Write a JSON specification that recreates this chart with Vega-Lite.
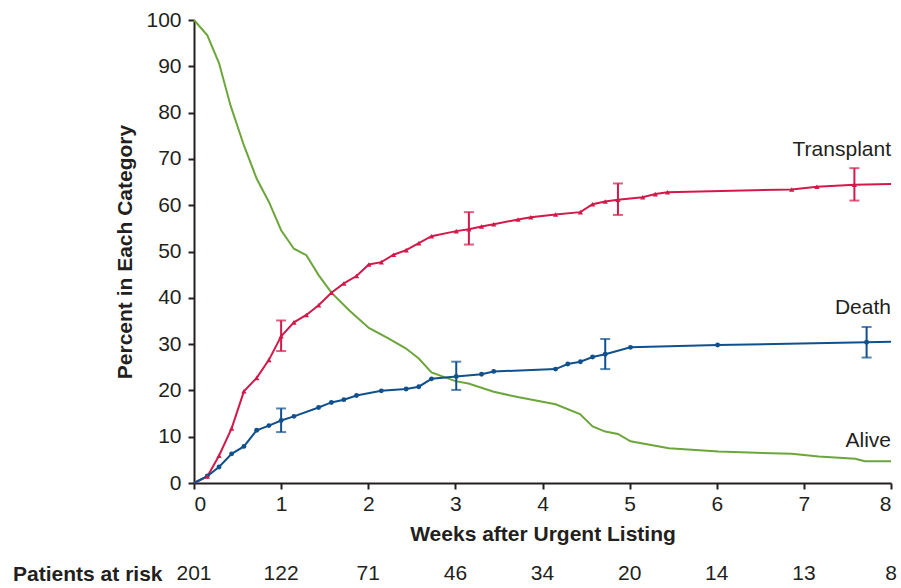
{
  "$schema": "https://vega.github.io/schema/vega-lite/v6.json",
  "autosize": {"type": "pad"},
  "padding": {"left": 12, "top": 9, "right": 5, "bottom": 0},
  "background": "white",
  "config": {
    "font": "Liberation Sans",
    "view": {"stroke": null},
    "concat": {"spacing": 19},
    "axis": {
      "grid": false,
      "domainColor": "#231f20",
      "domainWidth": 2,
      "tickColor": "#231f20",
      "tickWidth": 2,
      "tickSize": 6,
      "labelFont": "Liberation Sans",
      "labelFontSize": 21,
      "labelColor": "#231f20",
      "titleFont": "Liberation Sans",
      "titleFontSize": 21,
      "titleFontWeight": "bold",
      "titleColor": "#231f20"
    }
  },
  "datasets": {
    "curves": [
      {"series": "Alive", "week": 0, "pct": 100},
      {"series": "Alive", "week": 0.153, "pct": 96.7},
      {"series": "Alive", "week": 0.287, "pct": 90.7},
      {"series": "Alive", "week": 0.42, "pct": 81.5},
      {"series": "Alive", "week": 0.573, "pct": 72.9},
      {"series": "Alive", "week": 0.72, "pct": 65.7},
      {"series": "Alive", "week": 0.86, "pct": 60.7},
      {"series": "Alive", "week": 1.0, "pct": 54.6},
      {"series": "Alive", "week": 1.147, "pct": 50.6},
      {"series": "Alive", "week": 1.29, "pct": 49.2},
      {"series": "Alive", "week": 1.43, "pct": 44.9},
      {"series": "Alive", "week": 1.577, "pct": 41.1},
      {"series": "Alive", "week": 1.78, "pct": 37.3},
      {"series": "Alive", "week": 2.007, "pct": 33.5},
      {"series": "Alive", "week": 2.236, "pct": 31.2},
      {"series": "Alive", "week": 2.43, "pct": 29.1},
      {"series": "Alive", "week": 2.58, "pct": 26.9},
      {"series": "Alive", "week": 2.726, "pct": 23.9},
      {"series": "Alive", "week": 3.0, "pct": 22.0},
      {"series": "Alive", "week": 3.15, "pct": 21.5},
      {"series": "Alive", "week": 3.44, "pct": 19.7},
      {"series": "Alive", "week": 3.73, "pct": 18.5},
      {"series": "Alive", "week": 4.15, "pct": 17.0},
      {"series": "Alive", "week": 4.43, "pct": 14.9},
      {"series": "Alive", "week": 4.575, "pct": 12.2},
      {"series": "Alive", "week": 4.72, "pct": 11.1},
      {"series": "Alive", "week": 4.866, "pct": 10.6},
      {"series": "Alive", "week": 5.01, "pct": 9.0},
      {"series": "Alive", "week": 5.45, "pct": 7.5},
      {"series": "Alive", "week": 6.02, "pct": 6.8},
      {"series": "Alive", "week": 6.86, "pct": 6.3},
      {"series": "Alive", "week": 7.17, "pct": 5.75},
      {"series": "Alive", "week": 7.59, "pct": 5.25},
      {"series": "Alive", "week": 7.7, "pct": 4.7},
      {"series": "Alive", "week": 8.0, "pct": 4.7},
      {"series": "Transplant", "week": 0, "pct": 0},
      {"series": "Transplant", "week": 0.153, "pct": 1.4},
      {"series": "Transplant", "week": 0.287, "pct": 5.9},
      {"series": "Transplant", "week": 0.432, "pct": 11.8},
      {"series": "Transplant", "week": 0.573, "pct": 19.8},
      {"series": "Transplant", "week": 0.72, "pct": 22.7},
      {"series": "Transplant", "week": 0.86, "pct": 26.6},
      {"series": "Transplant", "week": 1.0, "pct": 31.7},
      {"series": "Transplant", "week": 1.147, "pct": 34.7},
      {"series": "Transplant", "week": 1.29, "pct": 36.3},
      {"series": "Transplant", "week": 1.43, "pct": 38.4},
      {"series": "Transplant", "week": 1.577, "pct": 41.1},
      {"series": "Transplant", "week": 1.72, "pct": 43.1},
      {"series": "Transplant", "week": 1.865, "pct": 44.7},
      {"series": "Transplant", "week": 2.007, "pct": 47.2},
      {"series": "Transplant", "week": 2.15, "pct": 47.7},
      {"series": "Transplant", "week": 2.29, "pct": 49.3},
      {"series": "Transplant", "week": 2.435, "pct": 50.3},
      {"series": "Transplant", "week": 2.58, "pct": 51.8},
      {"series": "Transplant", "week": 2.726, "pct": 53.3},
      {"series": "Transplant", "week": 3.01, "pct": 54.4},
      {"series": "Transplant", "week": 3.155, "pct": 54.8},
      {"series": "Transplant", "week": 3.3, "pct": 55.4},
      {"series": "Transplant", "week": 3.44, "pct": 55.9},
      {"series": "Transplant", "week": 3.72, "pct": 56.9},
      {"series": "Transplant", "week": 3.866, "pct": 57.4},
      {"series": "Transplant", "week": 4.15, "pct": 58.0},
      {"series": "Transplant", "week": 4.435, "pct": 58.5},
      {"series": "Transplant", "week": 4.575, "pct": 60.2},
      {"series": "Transplant", "week": 4.72, "pct": 60.8},
      {"series": "Transplant", "week": 4.866, "pct": 61.2},
      {"series": "Transplant", "week": 5.15, "pct": 61.7},
      {"series": "Transplant", "week": 5.295, "pct": 62.4},
      {"series": "Transplant", "week": 5.435, "pct": 62.8},
      {"series": "Transplant", "week": 6.86, "pct": 63.4},
      {"series": "Transplant", "week": 7.15, "pct": 64.0},
      {"series": "Transplant", "week": 7.58, "pct": 64.4},
      {"series": "Transplant", "week": 8.0, "pct": 64.6},
      {"series": "Death", "week": 0, "pct": 0},
      {"series": "Death", "week": 0.153, "pct": 1.5},
      {"series": "Death", "week": 0.287, "pct": 3.45},
      {"series": "Death", "week": 0.432, "pct": 6.3},
      {"series": "Death", "week": 0.573, "pct": 7.9},
      {"series": "Death", "week": 0.72, "pct": 11.4},
      {"series": "Death", "week": 0.86, "pct": 12.4},
      {"series": "Death", "week": 1.0, "pct": 13.5},
      {"series": "Death", "week": 1.147, "pct": 14.4},
      {"series": "Death", "week": 1.43, "pct": 16.3},
      {"series": "Death", "week": 1.577, "pct": 17.4},
      {"series": "Death", "week": 1.72, "pct": 18.0},
      {"series": "Death", "week": 1.865, "pct": 18.9},
      {"series": "Death", "week": 2.15, "pct": 19.9},
      {"series": "Death", "week": 2.435, "pct": 20.3},
      {"series": "Death", "week": 2.58, "pct": 20.8},
      {"series": "Death", "week": 2.726, "pct": 22.5},
      {"series": "Death", "week": 3.01, "pct": 23.0},
      {"series": "Death", "week": 3.3, "pct": 23.5},
      {"series": "Death", "week": 3.44, "pct": 24.1},
      {"series": "Death", "week": 4.15, "pct": 24.6},
      {"series": "Death", "week": 4.29, "pct": 25.7},
      {"series": "Death", "week": 4.435, "pct": 26.2},
      {"series": "Death", "week": 4.575, "pct": 27.2},
      {"series": "Death", "week": 4.72, "pct": 27.8},
      {"series": "Death", "week": 5.01, "pct": 29.3},
      {"series": "Death", "week": 6.01, "pct": 29.8},
      {"series": "Death", "week": 7.72, "pct": 30.4},
      {"series": "Death", "week": 8.0, "pct": 30.5}
    ],
    "errs": [
      {"series": "Transplant", "week": 1.0, "lo": 28.5, "hi": 35.1},
      {"series": "Transplant", "week": 3.155, "lo": 51.5, "hi": 58.5},
      {"series": "Transplant", "week": 4.866, "lo": 57.9, "hi": 64.7},
      {"series": "Transplant", "week": 7.58, "lo": 61.0, "hi": 68.0},
      {"series": "Death", "week": 1.0, "lo": 11.0, "hi": 16.1},
      {"series": "Death", "week": 3.01, "lo": 20.1, "hi": 26.2},
      {"series": "Death", "week": 4.72, "lo": 24.6, "hi": 31.1},
      {"series": "Death", "week": 7.72, "lo": 27.1, "hi": 33.7}
    ],
    "labels": [
      {"series": "Transplant", "week": 8, "pct": 71.9},
      {"series": "Death", "week": 8, "pct": 37.8},
      {"series": "Alive", "week": 8, "pct": 9.0}
    ],
    "risk": [
      {"row": "Patients at risk", "week": 0, "n": 201},
      {"row": "Patients at risk", "week": 1, "n": 122},
      {"row": "Patients at risk", "week": 2, "n": 71},
      {"row": "Patients at risk", "week": 3, "n": 46},
      {"row": "Patients at risk", "week": 4, "n": 34},
      {"row": "Patients at risk", "week": 5, "n": 20},
      {"row": "Patients at risk", "week": 6, "n": 14},
      {"row": "Patients at risk", "week": 7, "n": 13},
      {"row": "Patients at risk", "week": 8, "n": 8}
    ]
  },
  "vconcat": [
    {
      "width": 697,
      "height": 463,
      "encoding": {
        "x": {
          "field": "week", "type": "quantitative",
          "scale": {"domain": [0, 8], "nice": false, "zero": false},
          "axis": {"values": [0, 1, 2, 3, 4, 5, 6, 7, 8], "title": "Weeks after Urgent Listing", "labelPadding": 4, "titlePadding": 9}
        },
        "color": {
          "field": "series", "type": "nominal",
          "scale": {"domain": ["Transplant", "Death", "Alive"], "range": ["#d2194a", "#10508c", "#6ca63a"]},
          "legend": null
        }
      },
      "layer": [
        {
          "data": {"name": "curves"},
          "mark": {"type": "line", "strokeWidth": 2, "clip": false},
          "encoding": {
            "y": {
              "field": "pct", "type": "quantitative",
              "scale": {"domain": [0, 100], "nice": false},
              "axis": {"values": [0, 10, 20, 30, 40, 50, 60, 70, 80, 90, 100], "title": "Percent in Each Category", "labelPadding": 7, "titlePadding": 10}
            },
            "order": {"field": "week", "type": "quantitative"}
          }
        },
        {
          "data": {"name": "curves"},
          "transform": [{"filter": "datum.series === 'Death' && datum.week > 0 && datum.week < 8"}],
          "mark": {"type": "point", "shape": "circle", "filled": true, "size": 24, "opacity": 1},
          "encoding": {"y": {"field": "pct", "type": "quantitative", "title": "Percent in Each Category"}}
        },
        {
          "data": {"name": "curves"},
          "transform": [{"filter": "datum.series === 'Transplant' && datum.week > 0 && datum.week < 8"}],
          "mark": {"type": "point", "shape": "triangle-up", "filled": true, "size": 28, "opacity": 1},
          "encoding": {"y": {"field": "pct", "type": "quantitative", "title": "Percent in Each Category"}}
        },
        {
          "data": {"name": "errs"},
          "mark": {"type": "errorbar", "ticks": {"size": 10}, "thickness": 2},
          "encoding": {
            "y": {"field": "lo", "type": "quantitative", "title": "Percent in Each Category"},
            "y2": {"field": "hi"}
          }
        },
        {
          "data": {"name": "labels"},
          "mark": {"type": "text", "align": "right", "baseline": "middle", "fontSize": 21, "font": "Liberation Sans", "color": "#231f20"},
          "encoding": {
            "y": {"field": "pct", "type": "quantitative", "title": "Percent in Each Category"},
            "text": {"field": "series"},
            "color": {"value": "#231f20"}
          }
        }
      ]
    },
    {
      "width": 697,
      "height": 20,
      "data": {"name": "risk"},
      "mark": {"type": "text", "fontSize": 21, "font": "Liberation Sans", "color": "#231f20", "baseline": "middle"},
      "encoding": {
        "x": {"field": "week", "type": "quantitative", "scale": {"domain": [0, 8], "nice": false, "zero": false}, "axis": null},
        "y": {"field": "row", "type": "nominal", "axis": {"title": null, "domain": false, "ticks": false, "labelFontWeight": "bold", "labelPadding": 32, "labelFontSize": 21}},
        "text": {"field": "n"}
      }
    }
  ]
}
